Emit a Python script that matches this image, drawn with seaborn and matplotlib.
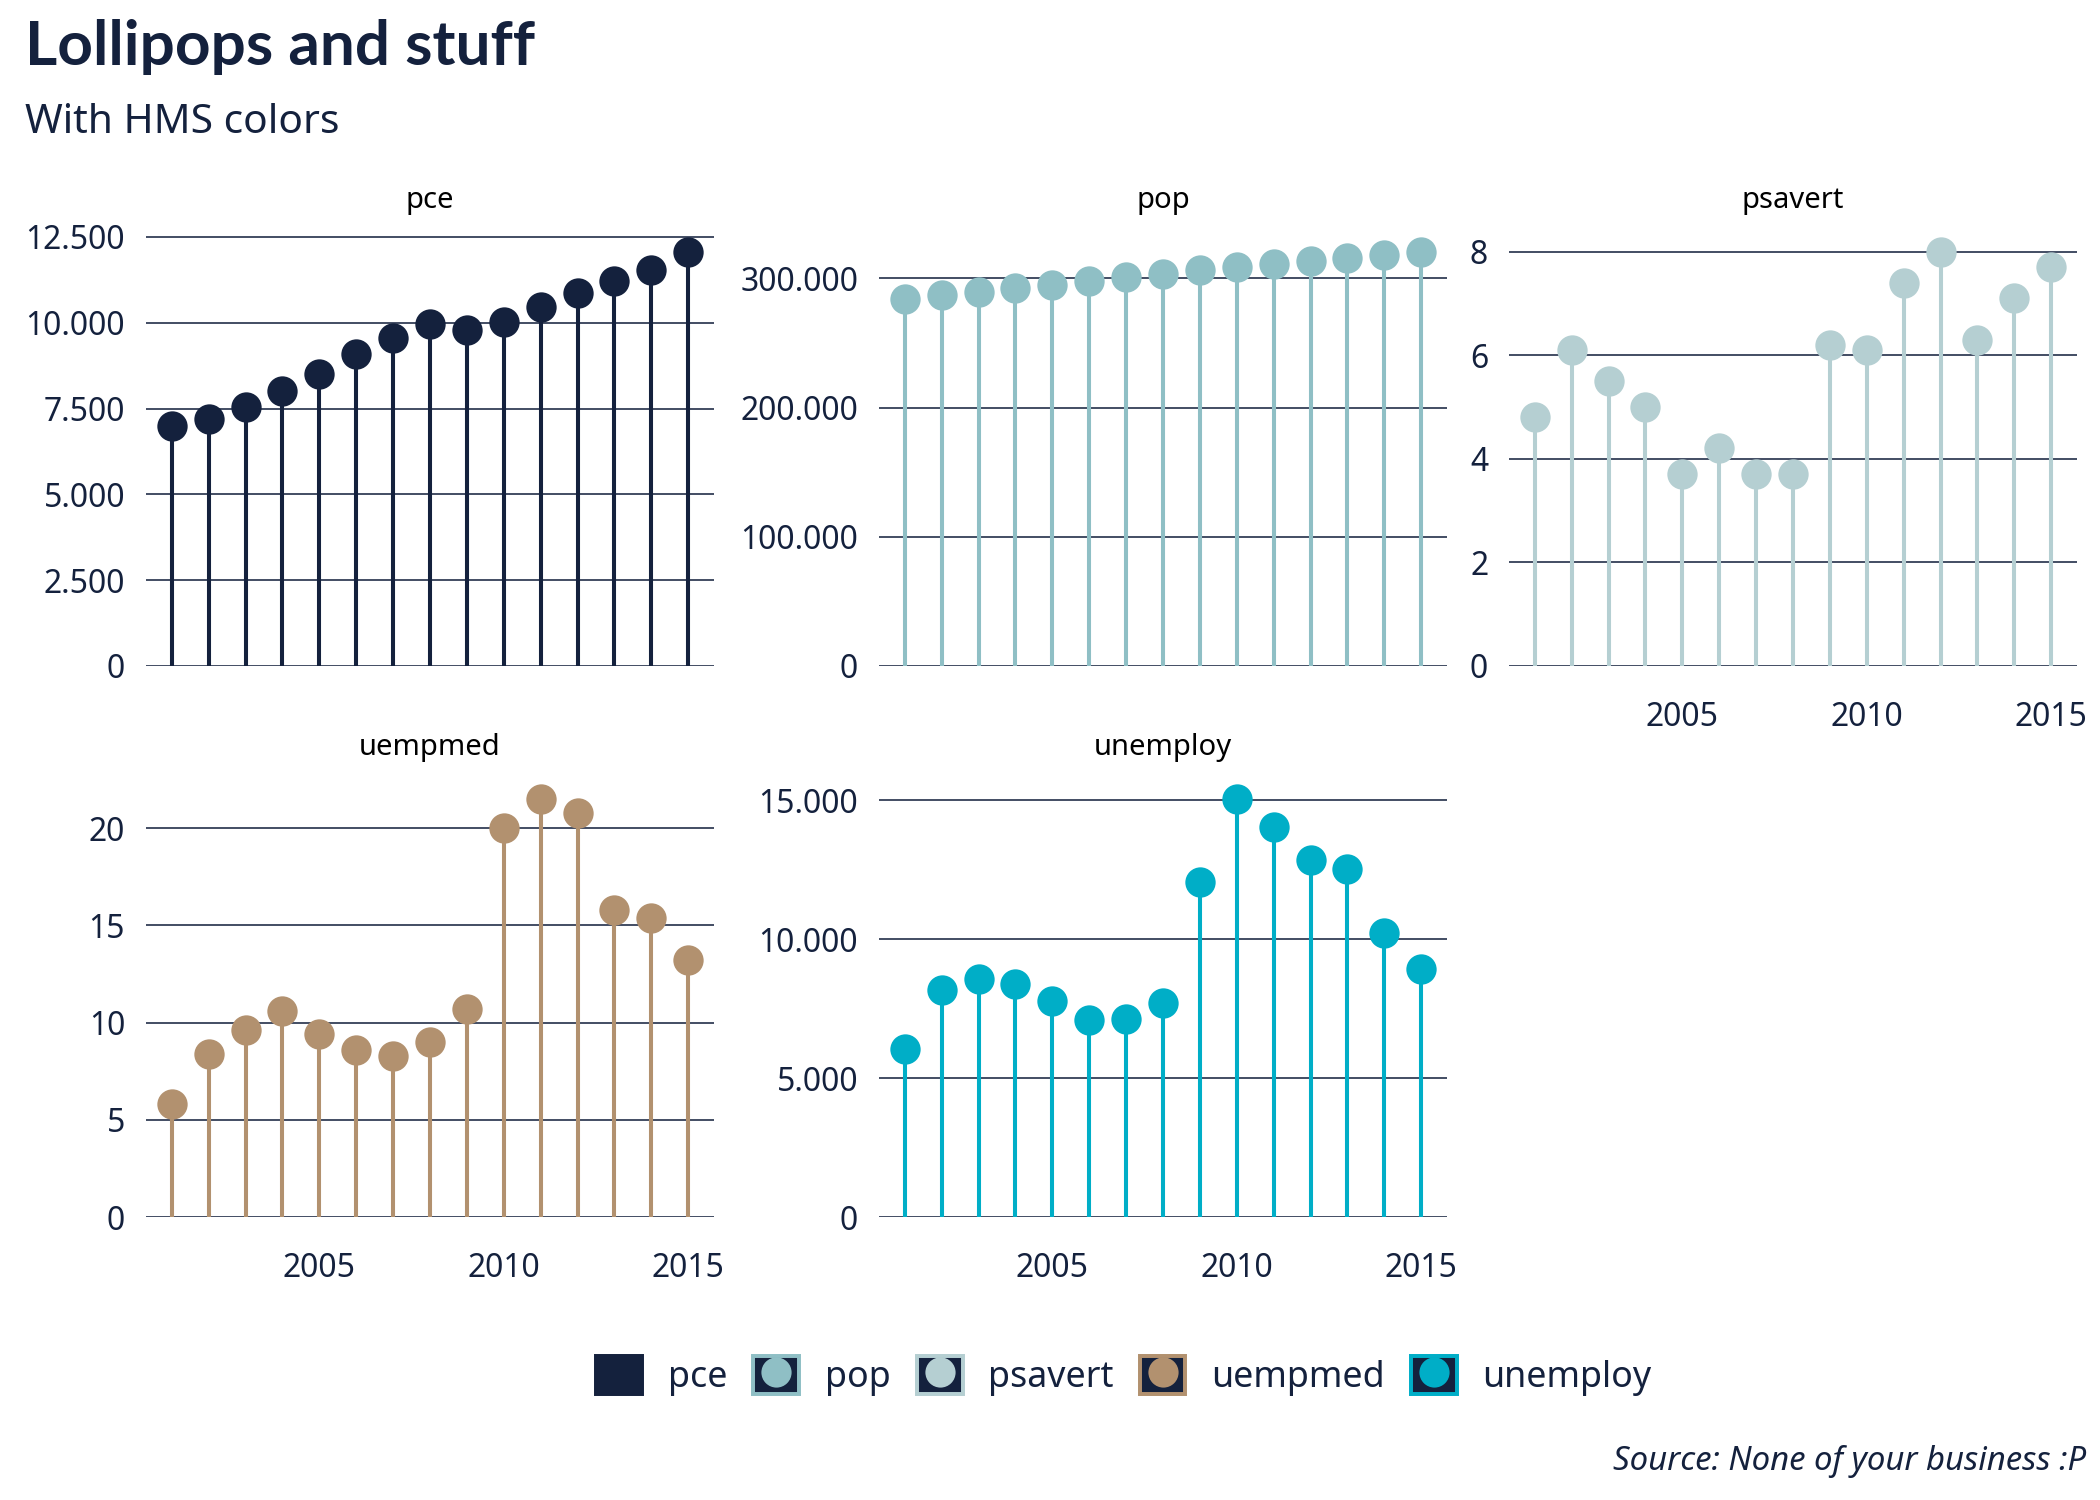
import numpy as np
import pandas as pd
import matplotlib
matplotlib.use("Agg")
import matplotlib.pyplot as plt
from matplotlib.ticker import MultipleLocator, FuncFormatter, FixedLocator
from matplotlib.patches import Rectangle
from matplotlib.lines import Line2D
import seaborn as sns

# ---------------- data ----------------
years = list(range(2001, 2016))
pce = [6990, 7190, 7540, 8010, 8515, 9085, 9555, 9970, 9800, 10020, 10450, 10875, 11230, 11525, 12070]
pop = [284300, 287400, 289700, 292800, 295100, 298200, 301300, 303600, 306700, 309000, 311300, 313600, 315900, 318300, 320600]
psavert = [4.8, 6.1, 5.5, 5.0, 3.7, 4.2, 3.7, 3.7, 6.2, 6.1, 7.4, 8.0, 6.3, 7.1, 7.7]
uempmed = [5.8, 8.4, 9.6, 10.6, 9.4, 8.6, 8.3, 9.0, 10.7, 20.0, 21.5, 20.8, 15.8, 15.4, 13.2]
unemploy = [6060, 8190, 8555, 8405, 7790, 7105, 7130, 7720, 12075, 15055, 14035, 12840, 12515, 10220, 8915]

variables = ["pce", "pop", "psavert", "uempmed", "unemploy"]
series = {"pce": pce, "pop": pop, "psavert": psavert, "uempmed": uempmed, "unemploy": unemploy}
colors = {"pce": "#14213D", "pop": "#8FBFC5", "psavert": "#B5CFD2",
          "uempmed": "#B2916F", "unemploy": "#00AEC7"}
x_ticks = [2005, 2010, 2015]

title = "Lollipops and stuff"
subtitle = "With HMS colors"
caption = "Source: None of your business :P"

df = pd.DataFrame([(v, y, val) for v in variables for y, val in zip(years, series[v])],
                  columns=["variable", "year", "value"])

# ---------------- style ----------------
NAVY = "#14213D"
sns.set_theme(style="white")
plt.rcParams["font.family"] = ["Noto Sans", "DejaVu Sans"]
plt.rcParams["text.color"] = NAVY
plt.rcParams["axes.labelcolor"] = NAVY
plt.rcParams["xtick.color"] = NAVY
plt.rcParams["ytick.color"] = NAVY

W, H = 2100, 1500
fig = plt.figure(figsize=(14, 10), dpi=150)
fig.patch.set_facecolor("white")

# panel boxes in pixels: (left, right) and (top, bottom)
cols = [(146, 714), (879, 1447), (1509, 2077)]
rows = [(231, 666), (778, 1217)]
layout = {"pce": (0, 0), "pop": (0, 1), "psavert": (0, 2), "uempmed": (1, 0), "unemploy": (1, 1)}
step = {"pce": 2500, "pop": 100000, "psavert": 2, "uempmed": 5, "unemploy": 5000}
show_x = {"pce": False, "pop": False, "psavert": True, "uempmed": True, "unemploy": True}

fmt = FuncFormatter(lambda v, p: f"{int(round(v)):,}".replace(",", "."))

for v in variables:
    r, c = layout[v]
    l, rr = cols[c]
    t, b = rows[r]
    ax = fig.add_axes([l / W, 1 - b / H, (rr - l) / W, (b - t) / H])
    sub = df[df["variable"] == v]
    col = colors[v]
    ax.set_axisbelow(True)
    ax.vlines(sub["year"], 0, sub["value"], color=col, lw=1.95, zorder=2)
    sns.scatterplot(data=sub, x="year", y="value", color=col, s=212, linewidth=0,
                    ax=ax, legend=False, zorder=3)
    ymax = sub["value"].max() * 1.05
    ax.set_ylim(0, ymax)
    ax.set_xlim(2000.3, 2015.7)
    ax.yaxis.set_major_locator(MultipleLocator(step[v]))
    ax.yaxis.set_major_formatter(fmt)
    ax.xaxis.set_major_locator(FixedLocator(x_ticks))
    ax.grid(axis="y", color=NAVY, lw=0.75)
    ax.grid(axis="x", visible=False)
    for s in ax.spines.values():
        s.set_visible(False)
    ax.tick_params(axis="y", length=0, pad=10, labelsize=15.3, labelcolor=NAVY)
    ax.tick_params(axis="x", length=0, pad=17, labelsize=15.3, labelcolor=NAVY,
                   labelbottom=show_x[v])
    ax.set_xlabel("")
    ax.set_ylabel("")
    ax.set_facecolor("white")
    ax.set_title(v, fontsize=14, color="black", pad=11)

# titles
fig.text(25 / W, 1 - 65 / H, title, fontsize=29.8, fontweight="bold", color=NAVY,
         family=["Lato", "DejaVu Sans"], ha="left", va="baseline")
fig.text(25 / W, 1 - 133 / H, subtitle, fontsize=19.5, color=NAVY, ha="left", va="baseline")
fig.text(2086 / W, 1 - 1470 / H, caption, fontsize=15.8, style="italic", color=NAVY,
         ha="right", va="baseline")

# legend
handles = []
for v in variables:
    rect = Rectangle((0, 0), 1, 1, facecolor=NAVY, edgecolor=colors[v], linewidth=1.9)
    dot = Line2D([], [], marker="o", linestyle="none", markersize=14.5,
                 markerfacecolor=colors[v], markeredgewidth=0)
    handles.append((rect, dot))
fig.legend(handles, variables, ncol=5, frameon=False, loc="center",
           bbox_to_anchor=(1124 / W, 1 - 1376 / H), fontsize=17.2,
           handlelength=1.28, handleheight=1.25, handletextpad=0.72,
           columnspacing=0.72, labelcolor=NAVY)

fig.savefig("out.png", dpi=150, facecolor="white")
